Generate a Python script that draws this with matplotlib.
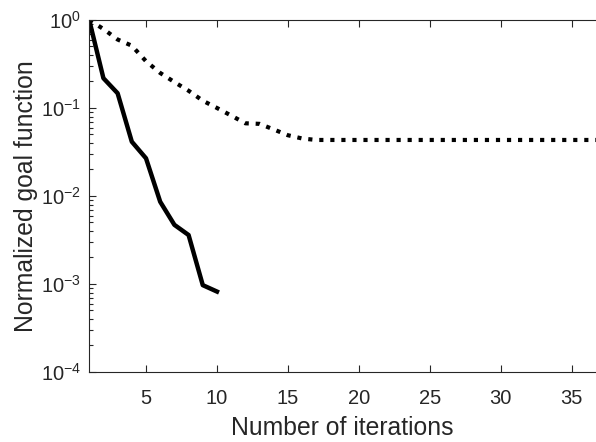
import matplotlib
matplotlib.use("Agg")
import matplotlib.pyplot as plt
from matplotlib.ticker import LogLocator, NullFormatter

plt.rcParams['font.family'] = ['Liberation Sans', 'DejaVu Sans']
plt.rcParams['mathtext.default'] = 'regular'

# solid curve, iterations 1..10
iter_solid = [1, 2, 3, 4, 5, 6, 7, 8, 9, 10]
goal_solid = [1.0, 0.218, 0.147, 0.0414, 0.0268, 0.0086, 0.0047, 0.0036, 0.00097, 0.00082]

# dotted curve, iterations 1..37
iter_dotted = list(range(1, 38))
goal_dotted = [1.0, 0.79, 0.60, 0.51, 0.34, 0.25, 0.197, 0.157, 0.121, 0.10,
               0.082, 0.067, 0.066, 0.057, 0.049, 0.045, 0.0433, 0.0433, 0.0433, 0.0433,
               0.0433, 0.0433, 0.0433, 0.0433, 0.0433, 0.0433, 0.0433, 0.0433, 0.0433, 0.0433,
               0.0433, 0.0433, 0.0433, 0.0433, 0.0433, 0.0433, 0.0433]

xticks = [5, 10, 15, 20, 25, 30, 35]
yticks = [1e-4, 1e-3, 1e-2, 1e-1, 1e0]
ytick_labels = ['$10^{-4}$', '$10^{-3}$', '$10^{-2}$', '$10^{-1}$', '$10^{0}$']

fig = plt.figure(figsize=(5.96, 4.42), dpi=100)
ax = fig.add_axes([0.1497, 0.1584, 0.8503, 0.7964])

ax.plot(iter_solid, goal_solid, '-', color='k', linewidth=3.2)
ax.plot(iter_dotted, goal_dotted, ':', color='k', linewidth=3)

ax.set_yscale('log')
ax.set_xlim(1, 36.7)
ax.set_ylim(1e-4, 1e0)

ax.set_xticks(xticks)
ax.set_xticklabels([str(t) for t in xticks])
ax.set_yticks(yticks)
ax.set_yticklabels(ytick_labels)
ax.yaxis.set_minor_locator(LogLocator(base=10, subs=range(2, 10)))
ax.yaxis.set_minor_formatter(NullFormatter())

ax.tick_params(which='both', direction='in', top=True, right=False,
               colors='#262626', labelsize=14.5, width=0.8)
ax.tick_params(which='major', length=5)
ax.tick_params(which='minor', length=3)
ax.tick_params(axis='x', pad=12)
ax.tick_params(axis='y', pad=6)
for side in ['left', 'bottom', 'top']:
    ax.spines[side].set_color('#262626')
    ax.spines[side].set_linewidth(0.8)
ax.spines['right'].set_visible(False)

ax.set_xlabel('Number of iterations', fontsize=17.8, color='#262626', labelpad=6)
ax.set_ylabel('Normalized goal function', fontsize=17.8, color='#262626', labelpad=2)

fig.savefig('out.png', dpi=100)
